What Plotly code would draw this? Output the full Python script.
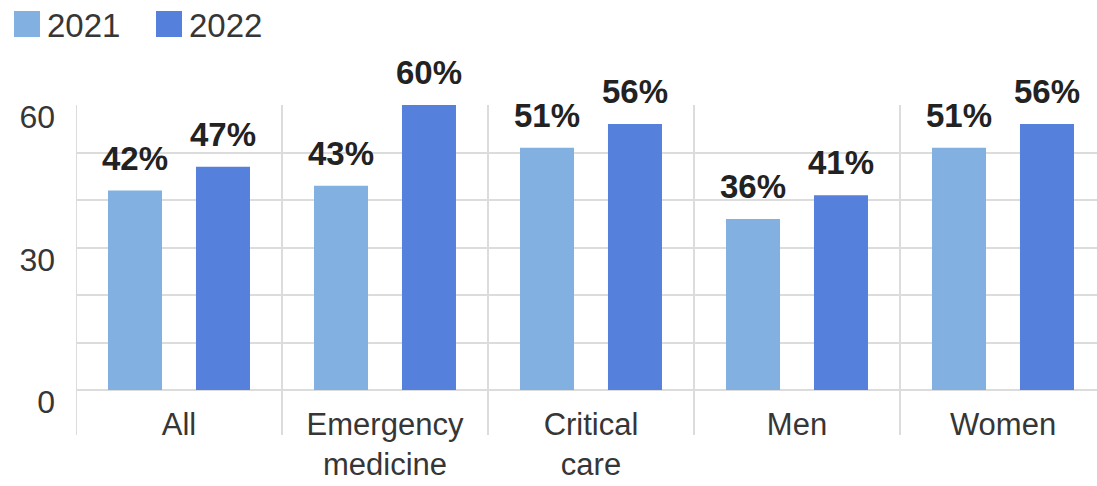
import plotly.graph_objects as go

# Survey share by group, 2021 vs 2022 (percent)
categories = ["All", "Emergency<br>medicine", "Critical<br>care", "Men", "Women"]
values_2021 = [42, 43, 51, 36, 51]
values_2022 = [47, 60, 56, 41, 56]
y_ticks = [0, 30, 60]

C2021 = "#82B0E1"
C2022 = "#5580DB"
TXT = "#363636"
LBL = "#222222"
GRID = "#DCDCDC"
FONT = "Liberation Sans"

W, H = 1097, 486
ML, MR, MT, MB = 76, 0, 105, 96
PW, PH = W - ML - MR, H - MT - MB
CAT_PX = 206  # pixel width of one category group
BARGAP, BARGROUPGAP = 0.146, 0.386


def px_x(p):
    return (p - ML) / PW


def px_y(p):
    return (H - MB - p) / PH


fig = go.Figure()
series = [("2021", values_2021, C2021), ("2022", values_2022, C2022)]
for name, vals, col in series:
    fig.add_trace(go.Bar(
        name=name, x=list(range(len(categories))), y=vals,
        marker=dict(color=col, line=dict(width=0)),
        showlegend=False, hoverinfo="x+y",
    ))

# Bold value labels above each bar
annotations = []
slot = (1 - BARGAP) / 2
for k, (name, vals, col) in enumerate(series):
    off = (k - 0.5) * slot
    for i, v in enumerate(vals):
        annotations.append(dict(
            x=i + off, y=v, xref="x", yref="y", text=f"{v}%", showarrow=False,
            xanchor="center", yanchor="bottom", yshift=12,
            font=dict(family=FONT, size=33, color=LBL, weight="bold"),
        ))

# Vertical separators between category groups
shapes = []
for i in range(len(categories)):
    shapes.append(dict(type="line", xref="x", yref="paper",
                       x0=i - 0.5, x1=i - 0.5, y0=px_y(435), y1=1,
                       line=dict(color=GRID, width=2), layer="below"))

# Legend drawn as squares with text
for lx, name, col in [(14, "2021", C2021), (156, "2022", C2022)]:
    shapes.append(dict(type="rect", xref="paper", yref="paper",
                       x0=px_x(lx), x1=px_x(lx + 26), y0=px_y(37), y1=px_y(11),
                       fillcolor=col, line=dict(width=0)))
    annotations.append(dict(xref="paper", yref="paper", x=px_x(lx + 31), y=px_y(25),
                            text=name, showarrow=False, xanchor="left", yanchor="middle",
                            font=dict(family=FONT, size=33, color=TXT)))

fig.update_layout(
    width=W, height=H, margin=dict(l=ML, r=MR, t=MT, b=MB),
    paper_bgcolor="white", plot_bgcolor="white",
    barmode="group", bargap=BARGAP, bargroupgap=BARGROUPGAP,
    shapes=shapes, annotations=annotations,
    font=dict(family=FONT, color=TXT),
)
fig.update_xaxes(
    tickvals=list(range(len(categories))), ticktext=categories,
    range=[-0.5, -0.5 + PW / CAT_PX], showgrid=False, zeroline=False,
    tickfont=dict(size=31, color=TXT), ticks="", showline=False,
    ticklabelstandoff=13, automargin=False,
)
fig.update_yaxes(
    range=[0, 60], tickvals=list(range(0, 61, 10)),
    ticktext=[str(v) if v in y_ticks else "" for v in range(0, 61, 10)],
    showgrid=True, gridcolor=GRID, gridwidth=2,
    zeroline=True, zerolinecolor=GRID, zerolinewidth=2,
    tickfont=dict(size=32, color=TXT), ticklabelstandoff=20, ticklabelshift=12,
    automargin=False,
)

fig.write_html("out.html")
